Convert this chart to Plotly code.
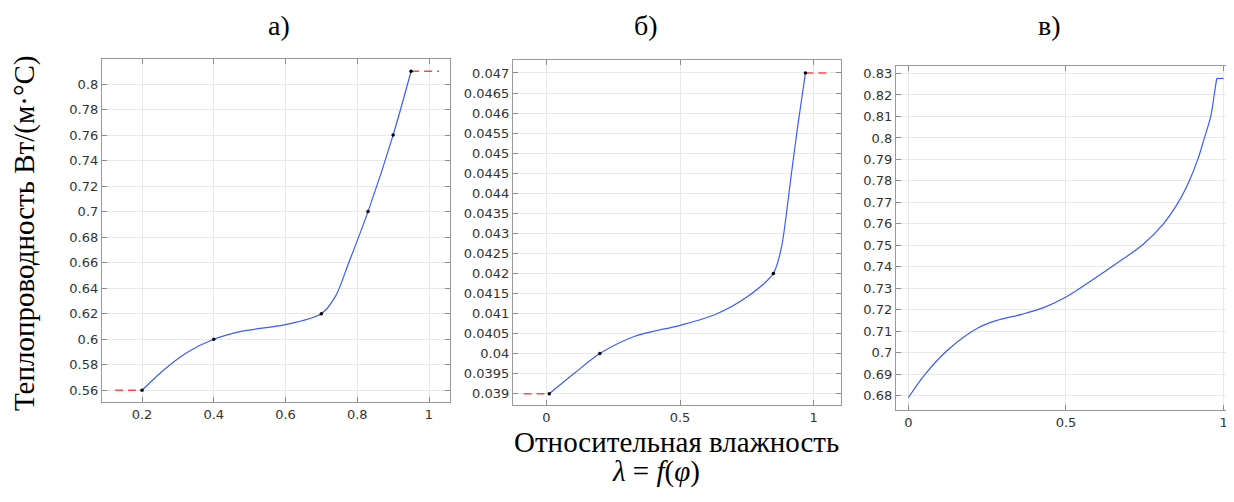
import plotly.graph_objects as go

W, H = 1234, 502

# ---- Panel a data ----
a_knots_x = [0.2, 0.4, 0.7, 0.83, 0.9, 0.95]
a_knots_y = [0.56, 0.6, 0.62, 0.70, 0.76, 0.81]
a_curve_x = [0.2, 0.263, 0.328, 0.4, 0.477, 0.6, 0.7, 0.74, 0.775, 0.83, 0.9, 0.95]
a_curve_y = [0.56, 0.5765, 0.5900, 0.6, 0.6062, 0.6114, 0.62, 0.634, 0.659, 0.70, 0.76, 0.81]
a_ext_left_x = [0.125, 0.2]
a_ext_left_y = [0.56, 0.56]
a_ext_right_x = [0.95, 1.028]
a_ext_right_y = [0.81, 0.81]
a_xticks = [0.2, 0.4, 0.6, 0.8, 1.0]
a_xtext = ["0.2", "0.4", "0.6", "0.8", "1"]
a_yticks = [0.56, 0.58, 0.60, 0.62, 0.64, 0.66, 0.68, 0.70, 0.72, 0.74, 0.76, 0.78, 0.80]
a_ytext = ["0.56", "0.58", "0.6", "0.62", "0.64", "0.66", "0.68", "0.7", "0.72", "0.74", "0.76", "0.78", "0.8"]

# ---- Panel b data ----
b_knots_x = [0.011, 0.2, 0.849, 0.969]
b_knots_y = [0.039, 0.040, 0.042, 0.047]
b_curve_x = [0.011, 0.106, 0.2, 0.331, 0.5, 0.63, 0.754, 0.849, 0.879, 0.8975, 0.916, 0.941, 0.969]
b_curve_y = [0.039, 0.039516, 0.040, 0.040432, 0.040706, 0.04097, 0.04143, 0.042, 0.04264, 0.04347, 0.04446, 0.04571, 0.047]
b_ext_left_x = [-0.085, 0.011]
b_ext_left_y = [0.039, 0.039]
b_ext_right_x = [0.969, 1.066]
b_ext_right_y = [0.047, 0.047]
b_xticks = [0, 0.5, 1]
b_xtext = ["0", "0.5", "1"]
b_yticks = [0.039, 0.0395, 0.040, 0.0405, 0.041, 0.0415, 0.042, 0.0425, 0.043, 0.0435, 0.044, 0.0445, 0.045, 0.0455, 0.046, 0.0465, 0.047]
b_ytext = ["0.039", "0.0395", "0.04", "0.0405", "0.041", "0.0415", "0.042", "0.0425", "0.043", "0.0435", "0.044", "0.0445", "0.045", "0.0455", "0.046", "0.0465", "0.047"]

# ---- Panel c data ----
c_curve_x = [0.0, 0.053, 0.127, 0.222, 0.285, 0.359, 0.433, 0.5, 0.581, 0.66, 0.745, 0.809, 0.856, 0.891, 0.918, 0.939, 0.959, 0.970, 0.978]
c_curve_y = [0.679, 0.6899, 0.7015, 0.7116, 0.7152, 0.7178, 0.7212, 0.7259, 0.7336, 0.7415, 0.7505, 0.760, 0.770, 0.780, 0.790, 0.800, 0.810, 0.820, 0.8277]
c_flat_x = [0.978, 1.0]
c_flat_y = [0.8277, 0.8277]
c_xticks = [0, 0.5, 1]
c_xtext = ["0", "0.5", "1"]
c_yticks = [0.68, 0.69, 0.70, 0.71, 0.72, 0.73, 0.74, 0.75, 0.76, 0.77, 0.78, 0.79, 0.80, 0.81, 0.82, 0.83]
c_ytext = ["0.68", "0.69", "0.7", "0.71", "0.72", "0.73", "0.74", "0.75", "0.76", "0.77", "0.78", "0.79", "0.8", "0.81", "0.82", "0.83"]

BLUE = "#3a5cff"
RED = "#ff4a4a"

fig = go.Figure()

def add_panel(ax, cx, cy, kx=None, ky=None, exts=(), flat=None, smooth=0.8):
    xa = "x" if ax == 1 else f"x{ax}"
    ya = "y" if ax == 1 else f"y{ax}"
    for ex, ey in exts:
        fig.add_trace(go.Scatter(x=ex, y=ey, mode="lines", xaxis=xa, yaxis=ya,
                                 line=dict(color=RED, width=1.5, dash="8px,5px"),
                                 showlegend=False, hoverinfo="skip"))
    fig.add_trace(go.Scatter(x=cx, y=cy, mode="lines", xaxis=xa, yaxis=ya,
                             line=dict(color=BLUE, width=1.2, shape="spline", smoothing=smooth),
                             showlegend=False))
    if flat is not None:
        fig.add_trace(go.Scatter(x=flat[0], y=flat[1], mode="lines", xaxis=xa, yaxis=ya,
                                 line=dict(color=BLUE, width=1.2), showlegend=False))
    if kx is not None:
        fig.add_trace(go.Scatter(x=kx, y=ky, mode="markers", xaxis=xa, yaxis=ya,
                                 marker=dict(color="black", size=3.5),
                                 showlegend=False))

add_panel(1, a_curve_x, a_curve_y, a_knots_x, a_knots_y,
          exts=[(a_ext_left_x, a_ext_left_y), (a_ext_right_x, a_ext_right_y)])
add_panel(2, b_curve_x, b_curve_y, b_knots_x, b_knots_y,
          exts=[(b_ext_left_x, b_ext_left_y), (b_ext_right_x, b_ext_right_y)])
add_panel(3, c_curve_x, c_curve_y, flat=(c_flat_x, c_flat_y), smooth=1.0)

def px2x(p):
    return p / W

def px2y(p):
    return 1 - p / H

tickfont = dict(family="DejaVu Sans", size=13, color="#333333")

def axis_common():
    return dict(showgrid=True, gridcolor="#e8e8e8", gridwidth=1,
                showline=True, linecolor="#9a9a9a", linewidth=1.2, mirror="allticks",
                ticks="inside", ticklen=5, tickcolor="#8a8a8a", tickwidth=1,
                zeroline=False, tickfont=tickfont, tickmode="array")

panels = [
    ((94, 442), (51, 394), (0.0885, 1.0585), (0.5508, 0.8196), a_xticks, a_xtext, a_yticks, a_ytext),
    ((505, 833), (52, 397), (-0.1246, 1.102), (0.038718, 0.047324), b_xticks, b_xtext, b_yticks, b_ytext),
    ((888, 1227), (58, 402), (-0.039, 1.036), (0.6733, 0.8335), c_xticks, c_xtext, c_yticks, c_ytext),
]

layout_axes = {}
for i, (xp, yp, xr, yr, xt, xtt, yt, ytt) in enumerate(panels, start=1):
    xk = "xaxis" if i == 1 else f"xaxis{i}"
    yk = "yaxis" if i == 1 else f"yaxis{i}"
    xa = axis_common()
    xa.update(domain=[px2x(xp[0]), px2x(xp[1])], range=list(xr), tickvals=xt, ticktext=xtt,
              anchor="y" if i == 1 else f"y{i}")
    ya = axis_common()
    ya.update(domain=[px2y(yp[1]), px2y(yp[0])], range=list(yr), tickvals=yt, ticktext=ytt,
              anchor="x" if i == 1 else f"x{i}")
    layout_axes[xk] = xa
    layout_axes[yk] = ya

serif = "Liberation Serif"
annotations = [
    dict(text="а)", x=px2x(271), y=px2y(18), font=dict(family=serif, size=28, color="black")),
    dict(text="б)", x=px2x(638), y=px2y(18), font=dict(family=serif, size=28, color="black")),
    dict(text="в)", x=px2x(1041), y=px2y(18), font=dict(family=serif, size=28, color="black")),
    dict(text="Теплопроводность Вт/(м·°С)", x=px2x(16), y=px2y(225), textangle=-90,
         font=dict(family=serif, size=29, color="black")),
    dict(text="Относительная влажность", x=px2x(668), y=px2y(434),
         font=dict(family=serif, size=29, color="black")),
    dict(text="<i>λ</i> = <i>f</i>(<i>φ</i>)", x=px2x(648), y=px2y(463),
         font=dict(family=serif, size=29, color="black")),
]
for a in annotations:
    a.update(xref="paper", yref="paper", showarrow=False, xanchor="center", yanchor="middle")

fig.update_layout(width=W, height=H, margin=dict(l=0, r=0, t=0, b=0),
                  paper_bgcolor="white", plot_bgcolor="white",
                  annotations=annotations, **layout_axes)

fig.write_html("out.html")
